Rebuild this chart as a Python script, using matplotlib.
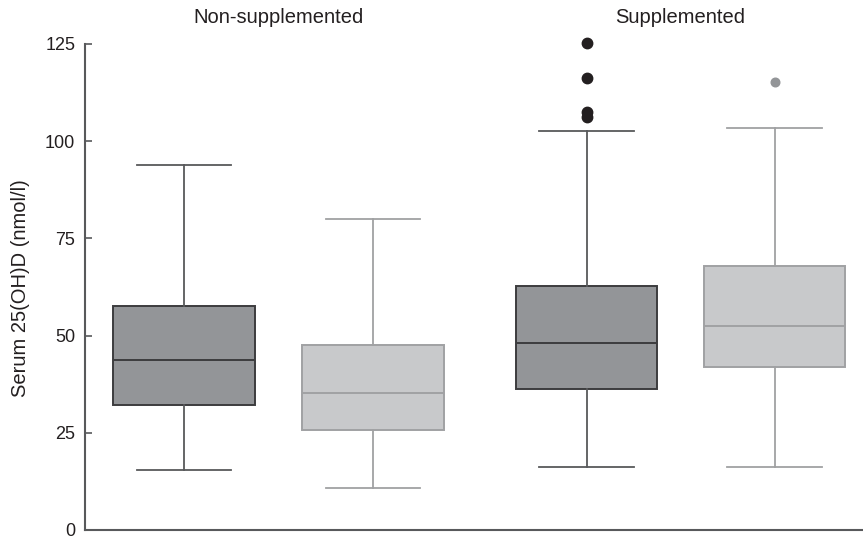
import matplotlib
matplotlib.use("Agg")
import matplotlib.pyplot as plt
from matplotlib.transforms import blended_transform_factory

plt.rcParams['font.family'] = ['Liberation Sans', 'DejaVu Sans']

# box statistics (nmol/l)
groups = ["Non-supplemented", "Supplemented"]
q1 = [32.2, 25.7, 36.2, 41.9]
medians = [43.6, 35.3, 48.1, 52.5]
q3 = [57.5, 47.5, 62.7, 67.8]
whis_lo = [15.4, 10.7, 16.1, 16.1]
whis_hi = [93.8, 80.1, 102.5, 103.4]
fliers = [[], [], [125.3, 116.2, 107.4, 106.1], [115.1]]
yticks = [0, 25, 50, 75, 100, 125]

positions = [1, 2, 3.13, 4.125]
dark = dict(face='#939598', edge='#3c3c3e', whisk='#58595b', flier='#231f20', ms=7.5)
light = dict(face='#c8c9cb', edge='#a0a1a3', whisk='#a0a1a3', flier='#939598', ms=6.2)
styles = [dark, light, dark, light]

fig = plt.figure(figsize=(8.63, 5.38), dpi=100)
ax = fig.add_axes([85 / 863, 8 / 538, 778 / 863, 486 / 538])

for i in range(4):
    st = styles[i]
    stats = [dict(med=medians[i], q1=q1[i], q3=q3[i], whislo=whis_lo[i],
                  whishi=whis_hi[i], fliers=fliers[i])]
    res = ax.bxp(stats, positions=[positions[i]], widths=0.75, capwidths=0.5,
                 patch_artist=True, showfliers=True,
                 boxprops=dict(facecolor=st['face'], edgecolor=st['edge'], linewidth=1.4),
                 medianprops=dict(color=st['edge'], linewidth=1.4),
                 whiskerprops=dict(color=st['whisk'], linewidth=1.3),
                 capprops=dict(color=st['whisk'], linewidth=1.3),
                 flierprops=dict(marker='o', markerfacecolor=st['flier'],
                                 markeredgecolor=st['flier'], markersize=st['ms']))
    for f in res['fliers']:
        f.set_clip_on(False)

ax.set_xlim(0.476, 4.593)
ax.set_ylim(0, 125)
ax.set_yticks(yticks)
ax.set_yticklabels([str(t) for t in yticks])
ax.set_xticks([])

for s in ['top', 'right']:
    ax.spines[s].set_visible(False)
for s in ['left', 'bottom']:
    ax.spines[s].set_color('#58595b')
    ax.spines[s].set_linewidth(1.5)

ax.tick_params(axis='y', direction='in', length=5, width=1.2, color='#58595b',
               labelsize=13, pad=7, labelcolor='#231f20')

trans = blended_transform_factory(ax.transData, ax.transAxes)
ax.text((positions[0] + positions[1]) / 2, 1 + 26 / 486, groups[0], transform=trans,
        ha='center', va='center', fontsize=14.5, color='#231f20')
ax.text((positions[2] + positions[3]) / 2, 1 + 26 / 486, groups[1], transform=trans,
        ha='center', va='center', fontsize=14.5, color='#231f20')

fig.text(21 / 863, 1 - 288 / 538, "Serum 25(OH)D (nmol/l)", rotation=90,
         ha='center', va='center', fontsize=14.5, color='#231f20')

fig.savefig("out.png", dpi=100)
